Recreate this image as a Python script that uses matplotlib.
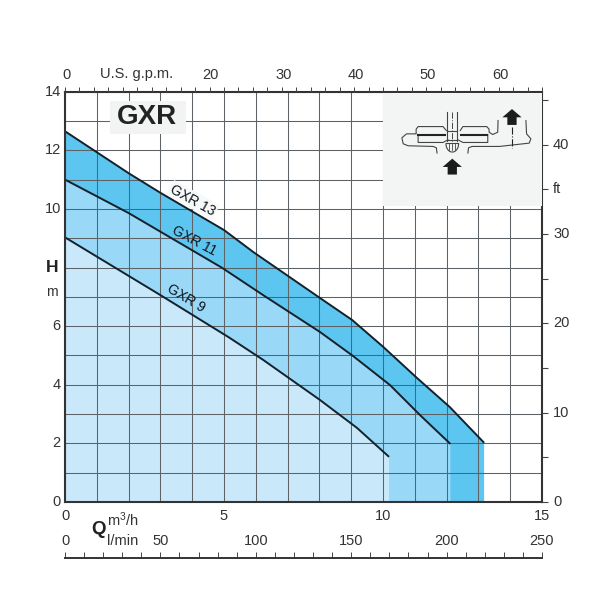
import matplotlib
matplotlib.use("Agg")
from matplotlib import pyplot as plt
from matplotlib.patches import Rectangle
import numpy as np

plt.rcParams['font.family'] = ['Liberation Sans', 'DejaVu Sans']
plt.rcParams['mathtext.fontset'] = 'custom'
plt.rcParams['mathtext.rm'] = 'Liberation Sans'
plt.rcParams['mathtext.default'] = 'rm'

# curve points (Q in m3/h, H in m)
q13 = [0, 2, 3, 5, 5.92, 8.02, 9.03, 10, 11.07, 12.1, 13.18]
h13 = [12.65, 11.22, 10.55, 9.28, 8.53, 6.96, 6.21, 5.3, 4.23, 3.24, 2.02]
q11 = [0, 2, 4.94, 6.23, 8.02, 9.06, 10.22, 11.16, 12.12]
h11 = [11.0, 9.86, 7.99, 7.06, 5.8, 4.98, 3.99, 2.97, 1.98]
q9 = [0, 3, 5.15, 6.23, 8.02, 9.18, 10.19]
h9 = [9.03, 7.06, 5.62, 4.85, 3.48, 2.53, 1.54]

band_colors = ['#5cc5f0', '#99d8f7', '#c9e8fa']
curves = [(q13, h13), (q11, h11), (q9, h9)]

h_ticks = [0, 2, 4, 6, 10, 12, 14]
gpm_ticks = [0, 20, 30, 40, 50, 60]
ft_ticks = [0, 10, 20, 30, 40]
lmin_ticks = [0, 50, 100, 150, 200, 250]
text_col = '#333333'
W = 608.0


def box(left, top, right, bottom):
    return [left / W, 1 - bottom / W, (right - left) / W, (bottom - top) / W]


fig = plt.figure(figsize=(6.08, 6.08), dpi=100)
ax = fig.add_axes(box(65, 91.7, 542, 502))
ax.set_xlim(0, 15)
ax.set_ylim(0, 14)

# filled bands, biggest pump first
for (q, h), col in zip(curves, band_colors):
    ax.fill(np.r_[0, q, q[-1]], np.r_[0, h, 0], color=col, lw=0, zorder=1)

ax.set_xticks(np.arange(0, 16))
ax.set_yticks(np.arange(0, 15))
ax.grid(True, color='#5d6266', lw=0.75)
for line in ax.get_xgridlines() + ax.get_ygridlines():
    line.set_zorder(2)
ax.tick_params(left=False, bottom=False, labelleft=False, labelbottom=False)

for q, h in curves:
    ax.plot(q, h, color='#14212b', lw=1.4, zorder=4, solid_capstyle='butt')

for s in ax.spines.values():
    s.set_color('#333333')
    s.set_linewidth(1.5)
    s.set_zorder(6)

# left H axis labels
for v in h_ticks:
    ax.annotate(str(v), xy=(0, v), xytext=(-3, 0), textcoords='offset points',
                ha='right', va='center', fontsize=10.5, color=text_col)
fig.text(52 / W, 1 - 267 / W, 'H', fontsize=12.5, fontweight='bold', ha='center', va='center', color='#222222')
fig.text(52 / W, 1 - 292 / W, 'm', fontsize=10, ha='center', va='center', color=text_col)

# bottom m3/h labels
for v, lab in zip([0, 5, 10, 15], ['0', '5', '10', '15']):
    ax.annotate(lab, xy=(v, 0), xytext=(0, -10), textcoords='offset points',
                ha='center', va='center', fontsize=10.5, color=text_col)

# top U.S. g.p.m. axis
ax_top = fig.add_axes(box(65, 91.7, 542, 502), frameon=False)
ax_top.patch.set_alpha(0)
ax_top.set_xlim(0, 477 / 7.23)
ax_top.set_ylim(0, 1)
ax_top.xaxis.tick_top()
ax_top.set_xticks(np.arange(0, 67, 2), labels=[])
ax_top.tick_params(axis='x', length=3.5, width=0.7, color='#444444')
ax_top.set_yticks([])
for v in gpm_ticks:
    ax_top.annotate(str(v), xy=(v, 1), xytext=(1, 12), textcoords='offset points',
                    ha='center', va='center', fontsize=10.5, color=text_col)
fig.text(137 / W, 1 - 74 / W, 'U.S. g.p.m.', fontsize=10.5, ha='center', va='center', color=text_col)

# right ft axis
ax_right = fig.add_axes(box(65, 91.7, 542, 502), frameon=False)
ax_right.patch.set_alpha(0)
ax_right.set_xticks([])
ax_right.set_ylim(0, 410.3 / 8.93)
ax_right.yaxis.tick_right()
ax_right.set_yticks(np.arange(0, 46, 5), labels=[])
ax_right.tick_params(axis='y', length=4, width=0.8, color='#444444')
for v in ft_ticks:
    ax_right.annotate(str(v), xy=(1, v), xycoords=ax_right.get_yaxis_transform(),
                      xytext=(8, 0), textcoords='offset points',
                      ha='left', va='center', fontsize=10.5, color=text_col)
ax_right.annotate('ft', xy=(1, 35), xycoords=ax_right.get_yaxis_transform(),
                  xytext=(8, 0), textcoords='offset points',
                  ha='left', va='center', fontsize=10.5, color=text_col)

# bottom l/min axis, separate line below the chart
ax_l = fig.add_axes(box(65, 540, 542, 558))
ax_l.patch.set_alpha(0)
ax_l.set_xlim(0, 250)
ax_l.set_ylim(0, 1)
ax_l.set_yticks([])
for side in ['top', 'left', 'right']:
    ax_l.spines[side].set_visible(False)
ax_l.spines['bottom'].set_linewidth(1.4)
ax_l.spines['bottom'].set_color('#333333')
ax_l.set_xticks(np.arange(0, 251, 10), labels=[])
ax_l.tick_params(axis='x', direction='in', length=4, width=0.7, color='#444444')
for v in lmin_ticks:
    ax_l.annotate(str(v), xy=(v, 0), xytext=(0, 12), textcoords='offset points',
                  ha='center', va='center', fontsize=10.5, color=text_col)

fig.text(98 / W, 1 - 530 / W, 'Q', fontsize=13.5, fontweight='bold', ha='center', va='center', color='#222222')
fig.text(107 / W, 1 - 520 / W, 'm$^{3}$/h', fontsize=10.5, ha='left', va='center', color=text_col)
fig.text(107 / W, 1 - 541 / W, 'l/min', fontsize=10.5, ha='left', va='center', color=text_col)

# title box
fig.add_artist(Rectangle((110 / W, 1 - 134 / W), 76 / W, 33 / W, transform=fig.transFigure,
                         color='#f2f4f4', lw=0, zorder=3))
fig.text(147 / W, 1 - 117.5 / W, 'GXR', fontsize=20, fontweight='bold', ha='center', va='center',
         color='#222222', zorder=5)

# curve names, only GXR 13 has a pale patch behind it
for lab, x, y, ang in [('GXR 13', 193, 200, -29), ('GXR 11', 194, 241, -28), ('GXR 9', 186, 298, -31)]:
    bg = dict(facecolor='#f7f8f8', edgecolor='none', pad=1) if lab == 'GXR 13' else None
    ax.text(x / W, 1 - y / W, lab, transform=fig.transFigure, fontsize=10, rotation=ang,
            ha='center', va='center', rotation_mode='anchor', color='#0c151c', bbox=bg, zorder=3)

# pump sketch, coordinates are in its own box
ic = fig.add_axes(box(383.3, 92.5, 541.5, 206), zorder=5)
ic.set_xlim(250, 727)
ic.set_ylim(468, 125)
ic.set_facecolor('#f3f5f5')
ic.set_xticks([])
ic.set_yticks([])
for s in ic.spines.values():
    s.set_visible(False)

sketch_lines = [
    ([440, 430, 355, 349, 349, 320, 306, 310, 325, 400, 410, 412],
     [240, 228, 228, 236, 250, 250, 262, 280, 286, 288, 292, 308]),
    ([505, 507, 518, 600, 690, 695, 682, 680], [308, 292, 288, 288, 278, 265, 250, 210]),
    ([482, 490, 562, 569, 569, 580, 595, 596], [240, 228, 228, 236, 245, 252, 245, 210]),
    ([355, 355, 430, 445], [252, 276, 276, 268]),
    ([565, 565, 490, 475], [252, 276, 276, 268]),
    ([443, 443], [183, 272]),
    ([473, 473], [183, 272]),
    ([443, 473], [240, 240]),
    ([443, 473], [270, 270]),
]
for xs, ys in sketch_lines:
    ic.plot(xs, ys, color='#444444', lw=0.8)
ic.plot([355, 435], [252, 252], color='#222222', lw=1.5)
ic.plot([485, 562], [252, 252], color='#222222', lw=1.5)
ic.plot([458, 458], [183, 272], color='#444444', lw=0.7, ls='-.')
ic.plot([638, 638], [228, 292], color='#222222', lw=0.8, ls='-.')

t = np.linspace(0, np.pi, 30)
ic.plot(458 + 19 * np.cos(t), 280 + 25 * np.sin(t), color='#444444', lw=0.8)
ic.plot([440, 476], [278, 278], color='#444444', lw=0.8)
for sx in [449, 458, 467]:
    ic.plot([sx, sx], [280, 300], color='#444444', lw=0.6)

for ax_x, top in [(458, 325), (638, 175)]:
    ic.fill(np.array([0, 29, 14, 14, -14, -14, -29]) + ax_x,
            np.array([0, 25, 25, 48, 48, 25, 25]) + top, color='#1c1c1c', lw=0)

plt.savefig('out.png', dpi=100)
